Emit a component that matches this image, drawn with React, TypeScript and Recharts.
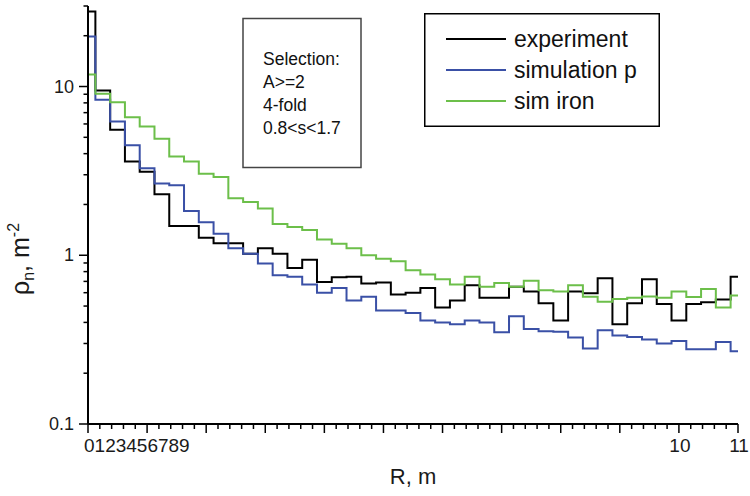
import React from "react";
import { LineChart, Line, XAxis, YAxis, Legend } from "recharts";

// bin centres, R in m
const rValues = [
  0, 0.25, 0.5, 0.75, 1, 1.25, 1.5, 1.75, 2, 2.25, 2.5, 2.75, 3, 3.25, 3.5,
  3.75, 4, 4.25, 4.5, 4.75, 5, 5.25, 5.5, 5.75, 6, 6.25, 6.5, 6.75, 7, 7.25,
  7.5, 7.75, 8, 8.25, 8.5, 8.75, 9, 9.25, 9.5, 9.75, 10, 10.25, 10.5, 10.75,
  11,
];

const experiment = [
  27.8, 9.47, 5.54, 3.6, 3.13, 2.3, 1.49, 1.49, 1.27, 1.18, 1.18, 1.02, 1.1,
  1.02, 0.84, 0.94, 0.695, 0.74, 0.745, 0.68, 0.69, 0.585, 0.6, 0.64, 0.49,
  0.54, 0.665, 0.56, 0.56, 0.65, 0.61, 0.52, 0.41, 0.61, 0.595, 0.73, 0.39,
  0.52, 0.72, 0.515, 0.41, 0.515, 0.527, 0.547, 0.745,
];

const simulationP = [
  19.8, 8.34, 6.2, 4.48, 3.28, 2.66, 2.6, 1.83, 1.57, 1.34, 1.1, 1.02, 0.893,
  0.76, 0.745, 0.67, 0.6, 0.64, 0.54, 0.567, 0.47, 0.47, 0.455, 0.41, 0.4,
  0.39, 0.41, 0.4, 0.35, 0.435, 0.365, 0.355, 0.352, 0.326, 0.28, 0.36, 0.335,
  0.328, 0.317, 0.3, 0.31, 0.277, 0.277, 0.306, 0.27,
];

const simIron = [
  11.8, 9.05, 8.08, 6.58, 5.8, 4.9, 3.85, 3.6, 3.04, 2.91, 2.18, 2.07, 1.89,
  1.53, 1.47, 1.41, 1.24, 1.17, 1.1, 1.0, 0.955, 0.92, 0.815, 0.77, 0.72, 0.67,
  0.745, 0.65, 0.686, 0.65, 0.705, 0.62, 0.61, 0.665, 0.567, 0.53, 0.55, 0.56,
  0.57, 0.56, 0.61, 0.565, 0.63, 0.49, 0.577,
];

const seriesNames = ["experiment", "simulation p", "sim iron"];

// axis ticks
const xMajorTicks = [0, 1, 2, 3, 4, 5, 6, 7, 8, 9, 10, 11];
const xTickLabels = ["0123456789", "", "", "", "", "", "", "", "", "", "10", "11"];
const xTicks = Array.from({ length: 56 }, (_, i) => Math.round(i * 2) / 10);

const yTicks = [
  0.1, 0.2, 0.3, 0.4, 0.5, 0.6, 0.7, 0.8, 0.9, 1, 2, 3, 4, 5, 6, 7, 8, 9, 10,
  20, 30,
];
const yMajorTicks = [0.1, 1, 10];
const yTickLabels = ["0.1", "1", "10"];

const selectionLines = ["Selection:", "A>=2", "4-fold", "0.8<s<1.7"];

const data = rValues.map((r, i) => ({
  r,
  experiment: experiment[i],
  simP: simulationP[i],
  simIron: simIron[i],
}));

const FONT = "'Liberation Sans', Arial, sans-serif";

const XTick = (props: any) => {
  const { x, y, payload } = props;
  const v = payload.value;
  const major = Math.abs(v - Math.round(v)) < 1e-6;
  const idx = major ? xMajorTicks.indexOf(Math.round(v)) : -1;
  const label = idx >= 0 ? xTickLabels[idx] : "";
  const first = idx === 0;
  return (
    <g>
      <line x1={x} x2={x} y1={y} y2={y + (major ? 9 : 5)} stroke="#000" strokeWidth={1.5} />
      {label && (
        <text
          x={first ? x - 4 : x + 1}
          y={y + 28}
          textAnchor={first ? "start" : "middle"}
          fontSize={19}
          fill="#1a1a1a"
        >
          {label}
        </text>
      )}
    </g>
  );
};

const YTick = (props: any) => {
  const { x, y, payload } = props;
  const idx = yMajorTicks.indexOf(payload.value);
  const major = idx >= 0;
  return (
    <g>
      <line x1={x - (major ? 9 : 4.5)} x2={x} y1={y} y2={y} stroke="#000" strokeWidth={1.5} />
      {major && (
        <text x={x - 14} y={y + 6} textAnchor="end" fontSize={18} fill="#1a1a1a">
          {yTickLabels[idx]}
        </text>
      )}
    </g>
  );
};

const LegendBox = (props: any) => {
  const items = [...(props.payload || [])].sort(
    (a: any, b: any) => seriesNames.indexOf(a.value) - seriesNames.indexOf(b.value)
  );
  return (
    <svg width={236} height={114} style={{ display: "block" }}>
      <rect x={0.75} y={0.75} width={234.5} height={112.5} fill="#fff" stroke="#000" strokeWidth={1.5} />
      {items.map((it: any, i: number) => {
        const cy = 26 + i * 31;
        return (
          <g key={i}>
            <line x1={22} x2={82} y1={cy} y2={cy} stroke={it.color} strokeWidth={2} />
            <text x={90} y={cy + 8} fontSize={23} fill="#111">
              {it.value}
            </text>
          </g>
        );
      })}
    </svg>
  );
};

export default function App() {
  return (
    <div style={{ position: "absolute", left: 0, top: 0, width: 750, height: 496, background: "#fff", fontFamily: FONT }}>
      <LineChart width={750} height={496} data={data} margin={{ top: 6, right: 12, bottom: 0, left: 0 }}>
        <XAxis
          dataKey="r"
          type="number"
          domain={[0, 11]}
          ticks={xTicks}
          interval={0}
          tickSize={0}
          tickMargin={0}
          tickLine={false}
          tick={<XTick />}
          axisLine={{ stroke: "#000", strokeWidth: 2 }}
          height={72}
          label={{ value: "R, m", position: "insideBottom", offset: 12, fontSize: 22, fill: "#1a1a1a" }}
        />
        <YAxis
          scale="log"
          domain={[0.1, 30]}
          allowDataOverflow
          ticks={yTicks}
          interval={0}
          tickSize={0}
          tickMargin={0}
          tickLine={false}
          tick={<YTick />}
          axisLine={{ stroke: "#000", strokeWidth: 2 }}
          width={88}
        />
        <Legend
          layout="vertical"
          align="center"
          verticalAlign="middle"
          wrapperStyle={{ left: 424, top: 13, width: 236, height: 114 }}
          content={<LegendBox />}
        />
        <Line type="step" dataKey="experiment" name="experiment" stroke="#000000" strokeWidth={2} dot={false} isAnimationActive={false} />
        <Line type="step" dataKey="simP" name="simulation p" stroke="#3a50a6" strokeWidth={2} dot={false} isAnimationActive={false} />
        <Line type="step" dataKey="simIron" name="sim iron" stroke="#6cbf4a" strokeWidth={2} dot={false} isAnimationActive={false} />
      </LineChart>
      <svg width={750} height={496} style={{ position: "absolute", left: 0, top: 0, pointerEvents: "none" }}>
        <rect x={243} y={18.5} width={118} height={149} fill="#fff" stroke="#444" strokeWidth={1.5} />
        {selectionLines.map((s, i) => (
          <text key={i} x={263} y={64.5 + i * 23.3} fontSize={17.5} fill="#111">
            {s}
          </text>
        ))}
        <text transform="translate(29,259) rotate(-90)" textAnchor="middle" fontSize={25} fill="#1a1a1a">
          ρ<tspan fontSize={16} dy={5}>n</tspan>
          <tspan dy={-5}>, m</tspan>
          <tspan fontSize={16} dy={-10}>-2</tspan>
        </text>
      </svg>
    </div>
  );
}
